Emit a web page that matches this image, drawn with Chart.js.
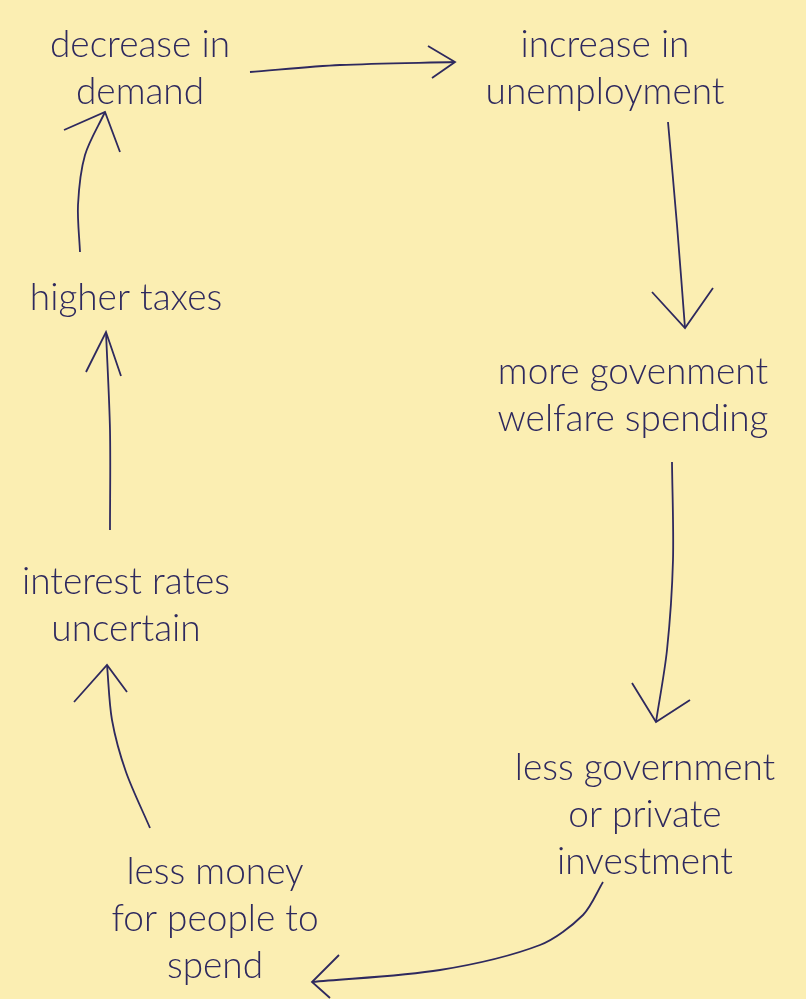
<!DOCTYPE html>
<html>
<head>
<meta charset="utf-8">
<script src="https://cdn.jsdelivr.net/npm/chart.js@4"></script>
<style>
  html, body { margin: 0; padding: 0; background: #fbeeb2; }
  #wrap { width: 806px; height: 999px; position: relative; }
</style>
</head>
<body>
<div id="wrap"><canvas id="cycleChart"></canvas></div>
<script>
// Economic downturn cycle, drawn on a hidden 806 x 999 scatter grid
const nodeLabels = [
  ['decrease in', 'demand'],
  ['increase in', 'unemployment'],
  ['more govenment', 'welfare spending'],
  ['less government', 'or private', 'investment'],
  ['less money', 'for people to', 'spend'],
  ['interest rates', 'uncertain'],
  ['higher taxes']
];
const nodeX = [140, 605, 633, 645, 215, 126, 126];
const nodeY = [45, 45, 372, 768, 872, 582, 298];

// arrow shafts (curved through the listed points)
const shaftPaths = [
  [[250, 72], [340, 65], [455, 62]],
  [[668, 122], [677, 225], [685, 328]],
  [[672, 462], [673, 560], [667, 650], [656, 722]],
  [[603, 882], [583, 915], [540, 945], [440, 970], [312, 982]],
  [[150, 828], [126, 772], [112, 720], [107, 665]],
  [[110, 530], [110, 430], [106, 332]],
  [[80, 252], [78, 205], [85, 155], [105, 112]]
];
// arrow heads: barb, tip, barb
const headPaths = [
  [[428, 46], [455, 62], [432, 78]],
  [[652, 292], [685, 328], [713, 288]],
  [[632, 683], [656, 722], [690, 700]],
  [[339, 955], [312, 982], [330, 998]],
  [[74, 702], [107, 665], [127, 692]],
  [[86, 372], [106, 332], [121, 376]],
  [[64, 130], [105, 112], [120, 152]]
];

const ink = '#2e295e';
const toPts = path => path.map(p => ({ x: p[0], y: p[1] }));

const datasets = [];
shaftPaths.forEach(path => datasets.push({
  data: toPts(path), showLine: true, borderColor: ink, borderWidth: 1.8,
  pointRadius: 0, tension: 0.3, fill: false
}));
headPaths.forEach(path => datasets.push({
  data: toPts(path), showLine: true, borderColor: ink, borderWidth: 1.8,
  pointRadius: 0, tension: 0, fill: false
}));

const labelPlugin = {
  id: 'nodeText',
  afterDatasetsDraw(chart) {
    const { ctx, scales } = chart;
    ctx.save();
    ctx.fillStyle = ink;
    ctx.font = '300 37px Lato';
    ctx.textAlign = 'center';
    ctx.textBaseline = 'middle';
    nodeLabels.forEach((lines, i) => {
      const cx = scales.x.getPixelForValue(nodeX[i]);
      lines.forEach((line, j) => {
        const cy = scales.y.getPixelForValue(nodeY[i] + j * 47);
        ctx.fillText(line, cx, cy);
      });
    });
    ctx.restore();
  }
};

const bgPlugin = {
  id: 'paper',
  beforeDraw(chart) {
    const { ctx, width, height } = chart;
    ctx.save();
    ctx.fillStyle = '#fbeeb2';
    ctx.fillRect(0, 0, width, height);
    ctx.restore();
  }
};

new Chart(document.getElementById('cycleChart'), {
  type: 'scatter',
  data: { datasets: datasets },
  options: {
    responsive: true,
    maintainAspectRatio: false,
    animation: false,
    layout: { padding: 0 },
    plugins: { legend: { display: false }, tooltip: { enabled: false } },
    scales: {
      x: { type: 'linear', min: 0, max: 806, display: false },
      y: { type: 'linear', min: 0, max: 999, reverse: true, display: false }
    }
  },
  plugins: [bgPlugin, labelPlugin]
});
</script>
</body>
</html>
